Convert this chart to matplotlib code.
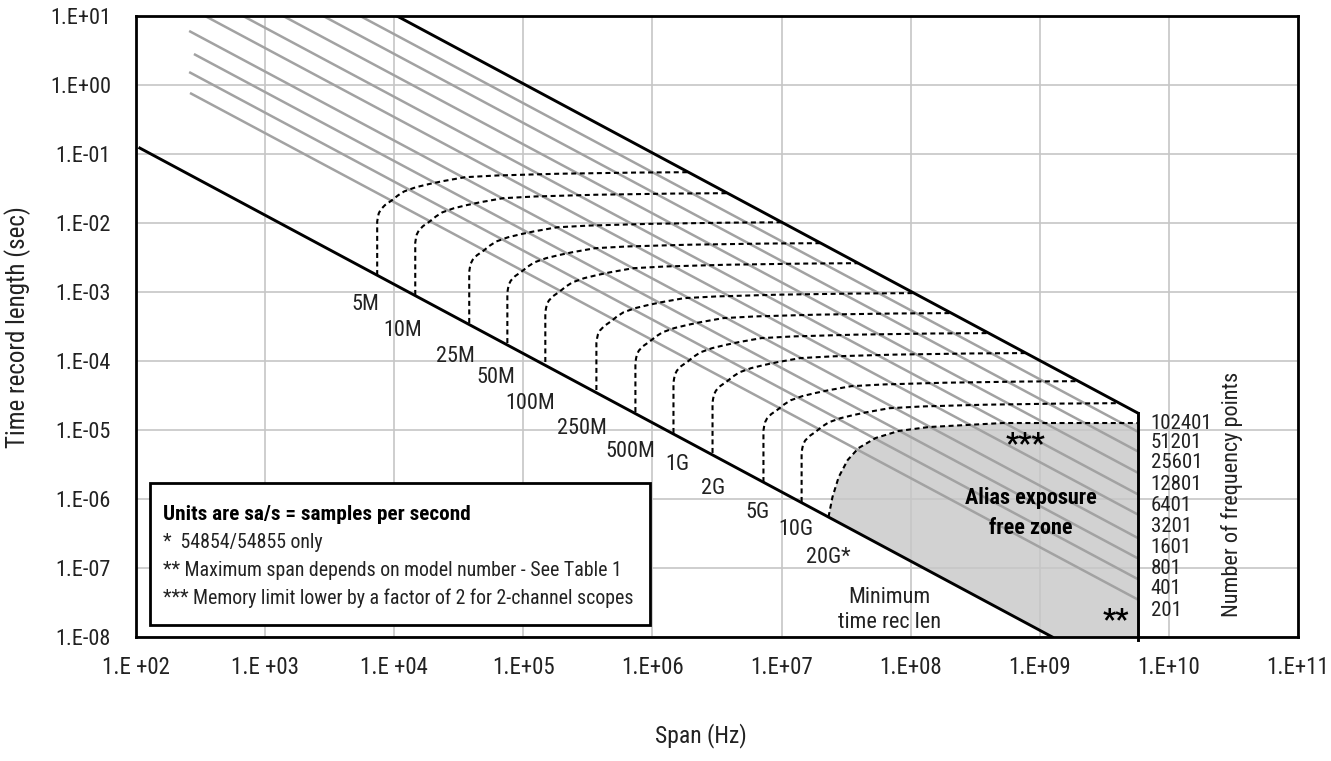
import numpy as np
import matplotlib
matplotlib.use("Agg")
import matplotlib.pyplot as plt
from matplotlib import font_manager as fm
from matplotlib.patches import Rectangle, Polygon
from matplotlib.ticker import NullLocator

# ---------------- data ----------------
x_ticks = [1e2, 1e3, 1e4, 1e5, 1e6, 1e7, 1e8, 1e9, 1e10, 1e11]
x_tick_labels = ['1.E +02', '1.E +03', '1.E +04', '1.E+05', '1.E+06',
                 '1.E+07', '1.E+08', '1.E+09', '1.E+10', '1.E+11']
y_ticks = [1e1, 1e0, 1e-1, 1e-2, 1e-3, 1e-4, 1e-5, 1e-6, 1e-7, 1e-8]
y_tick_labels = ['1.E+01', '1.E+00', '1.E-01', '1.E-02', '1.E-03',
                 '1.E-04', '1.E-05', '1.E-06', '1.E-07', '1.E-08']

# number-of-frequency-points labels (right side) and their heights
freq_points = ['102401', '51201', '25601', '12801', '6401',
               '3201', '1601', '801', '401', '201']
freq_label_T = [1.26e-5, 6.49e-6, 3.33e-6, 1.60e-6, 7.92e-7,
                3.93e-7, 1.95e-7, 1.00e-7, 4.97e-8, 2.46e-8]
freq_label_span = 7.24e9

# grey constant-point-count lines (51201 ... 201): start and end points
gray_start_span = [5.45e3, 2.82e3, 1.38e3, 6.75e2, 3.43e2, 2.58e2, 2.81e2, 2.58e2, 2.62e2]
gray_start_T = [10.0, 10.0, 10.0, 10.0, 10.0, 6.07, 2.81, 1.54, 0.766]
gray_end_span = [5.75e9] * 9
gray_end_T = [9.46e-6, 4.90e-6, 2.40e-6, 1.17e-6, 5.96e-7, 2.72e-7, 1.38e-7, 6.9e-8, 3.49e-8]

# black boundary lines
max_line_span = [1.05e4, 5.75e9]        # 102401 points / memory limit
max_line_T = [10.0, 1.76e-5]
min_line_span = [1.07e2, 1.25e9]        # minimum time record length
min_line_T = [0.122, 1e-8]
max_span = 5.75e9                      # right vertical boundary
edge_T = [1.76e-5, 9.0e-9]

# sample-rate curves
rate_labels = ['5M', '10M', '25M', '50M', '100M', '250M', '500M', '1G', '2G', '5G', '10G']
rate_s0 = [7.38e3, 1.455e4, 3.81e4, 7.52e4, 1.48e5, 3.68e5, 7.38e5, 1.455e6, 2.92e6, 7.24e6, 1.43e7]
rate_bottom_T = [1.76e-3, 9.06e-4, 3.56e-4, 1.82e-4, 9.68e-5, 3.80e-5, 1.82e-5,
                 9.06e-6, 4.65e-6, 1.76e-6, 9.06e-7]
rate_level_T = [5.48e-2, 2.72e-2, 1.03e-2, 5.13e-3, 2.63e-3, 9.68e-4, 4.97e-4,
                2.55e-4, 1.31e-4, 5.13e-5, 2.46e-5]
# shared corner shape (decades relative to s0 / level)
corner_dlogS = [0.0, 0.005, 0.012, 0.027, 0.06, 0.11, 0.16, 0.21, 0.30, 0.40,
                0.50, 0.68, 0.93, 1.4, 2.0, 2.6]
corner_dlogT = [-0.72, -0.66, -0.60, -0.545, -0.48, -0.415, -0.34, -0.28, -0.22,
                -0.175, -0.135, -0.075, -0.05, -0.025, -0.008, 0.0]

# 20G curve (bounds the alias-exposure-free zone)
g20_span = [2.31e7, 2.48e7, 2.77e7, 3.25e7, 3.95e7, 5.36e7, 8.07e7, 1.38e8, 2.67e8, 5.16e8, 5.75e9]
g20_T = [5.48e-7, 1.069e-6, 2.08e-6, 3.67e-6, 5.48e-6, 7.66e-6, 9.68e-6, 1.104e-5,
         1.18e-5, 1.262e-5, 1.262e-5]

label_names = rate_labels + ['20G*']
label_span = [5.96e3, 1.153e4, 2.97e4, 6.18e4, 1.132e5, 2.86e5, 6.75e5, 1.563e6,
              2.97e6, 6.52e6, 1.285e7, 2.31e7]
label_T = [6.49e-4, 2.81e-4, 1.143e-4, 5.68e-5, 2.46e-5, 1.069e-5, 4.80e-6, 3.11e-6,
           1.442e-6, 6.27e-7, 3.56e-7, 1.442e-7]

legend_title = 'Units are sa/s = samples per second'
legend_lines = ['*  54854/54855 only',
                '** Maximum span depends on model number - See Table 1',
                '*** Memory limit lower by a factor of 2 for 2-channel scopes']

# ---------------- font ----------------
def pick_font():
    entries = fm.fontManager.ttflist
    names = {e.name for e in entries}
    for cand in ['Liberation Sans Narrow', 'Arial Narrow', 'Roboto Condensed',
                 'Noto Sans Condensed', 'Open Sans Condensed', 'DejaVu Sans Condensed']:
        if cand in names:
            return cand, 'normal', 1.0
    for base in ['Noto Sans', 'DejaVu Sans', 'Roboto', 'Open Sans']:
        for e in entries:
            if e.name == base and str(e.stretch) in ('condensed', 'semi-condensed',
                                                     'extra-condensed', '75', '87'):
                return base, 'condensed', 0.9
    return 'DejaVu Sans', 'normal', 0.78

FAM, STRETCH, SC = pick_font()
plt.rcParams['font.family'] = [FAM, 'DejaVu Sans']
plt.rcParams['font.stretch'] = STRETCH

def fs(v):
    return v * SC

TXT = '#222222'

# ---------------- figure ----------------
W, H = 1331, 761
fig = plt.figure(figsize=(W / 100, H / 100), dpi=100)
fig.patch.set_facecolor('white')
ax = fig.add_axes([136 / W, 1 - 637 / H, 1162 / W, 621 / H])
ax.set_xscale('log')
ax.set_yscale('log')
ax.set_xlim(1e2, 1e11)
ax.set_ylim(1e-8, 1e1)
ax.set_xticks(x_ticks)
ax.set_xticklabels(x_tick_labels)
ax.set_yticks(y_ticks)
ax.set_yticklabels(y_tick_labels)
ax.xaxis.set_minor_locator(NullLocator())
ax.yaxis.set_minor_locator(NullLocator())
ax.tick_params(axis='x', length=0, pad=14, labelsize=fs(16.5), colors=TXT)
ax.tick_params(axis='y', length=0, pad=18, labelsize=fs(16), colors=TXT)
ax.set_axisbelow(True)
ax.grid(True, which='major', color='#c6c6c6', lw=1.2)
for sp in ax.spines.values():
    sp.set_linewidth(2.0)
    sp.set_color('black')

# shaded alias exposure free zone
poly_x = list(g20_span) + [max_span, min_line_span[1]]
poly_y = list(g20_T) + [min_line_T[1], min_line_T[1]]
ax.add_patch(Polygon(np.column_stack([poly_x, poly_y]), closed=True,
                     facecolor='#d2d2d2', edgecolor='none', zorder=0.3))

# grey lines
for xs0, ys0, xs1, ys1 in zip(gray_start_span, gray_start_T, gray_end_span, gray_end_T):
    ax.plot([xs0, xs1], [ys0, ys1], color='#a2a2a2', lw=1.8, zorder=2,
            solid_capstyle='butt')

# black boundary lines
ax.plot(max_line_span, max_line_T, color='black', lw=2.1, zorder=5)
ax.plot(min_line_span, min_line_T, color='black', lw=2.1, zorder=5)
ax.plot([max_span, max_span], edge_T, color='black', lw=2.1, zorder=5, clip_on=False)

# upper limit in log space (for ending the curves where they meet it)
lx = np.log10(max_line_span)
ly = np.log10(max_line_T)
def upper_logT(ls):
    return ly[0] + (ly[1] - ly[0]) * (ls - lx[0]) / (lx[1] - lx[0])

dash = (2.4, 1.7)
for s0, tb, tl in zip(rate_s0, rate_bottom_T, rate_level_T):
    ls = np.log10(s0) + np.array(corner_dlogS)
    lt = np.log10(tl) + np.array(corner_dlogT)
    ls = np.concatenate([[np.log10(s0)], ls])
    lt = np.concatenate([[np.log10(tb)], lt])
    diff = lt - upper_logT(ls)
    cut_s = np.log10(max_span)
    for i in range(1, len(ls)):
        if diff[i] >= 0 > diff[i - 1]:
            f = -diff[i - 1] / (diff[i] - diff[i - 1])
            cut_s = ls[i - 1] + f * (ls[i] - ls[i - 1])
            break
    keep = ls < cut_s
    xs = np.concatenate([ls[keep], [cut_s]])
    ys = np.concatenate([lt[keep], [np.interp(cut_s, ls, lt)]])
    ax.plot(10 ** xs, 10 ** ys, color='black', lw=1.5, zorder=4,
            linestyle=(0, dash))
ax.plot(g20_span, g20_T, color='black', lw=1.5, zorder=4, linestyle=(0, dash))

# sample-rate labels
for name, xs, ys in zip(label_names, label_span, label_T):
    ax.text(xs, ys, name, ha='center', va='center', fontsize=fs(16), color=TXT,
            zorder=6)

# frequency point labels
for name, ys in zip(freq_points, freq_label_T):
    ax.text(freq_label_span, ys, name, ha='left', va='center', fontsize=fs(15),
            color=TXT, clip_on=False)

# annotations
ax.text(7.78e8, 6.3e-6, '***', ha='center', va='center', fontsize=fs(21),
        fontweight='bold', zorder=6)
ax.text(3.88e9, 1.77e-8, '**', ha='center', va='center', fontsize=fs(21),
        fontweight='bold', zorder=6)
ax.text(8.51e8, 6.27e-7, 'Alias exposure\nfree zone', ha='center', va='center',
        fontsize=fs(16), fontweight='bold', linespacing=1.45, zorder=6)
ax.text(6.87e7, 2.45e-8, 'Minimum\ntime rec len', ha='center', va='center',
        fontsize=fs(16), linespacing=1.25, color=TXT, zorder=6)

# legend box
def fx(x):
    return x / W
def fy(y):
    return 1 - y / H

fig.patches.append(Rectangle((fx(150), fy(625)), fx(650) - fx(150), fy(483) - fy(625),
                             transform=fig.transFigure, facecolor='white',
                             edgecolor='black', lw=2.0, zorder=10))
fig.text(fx(163), fy(520), legend_title, fontsize=fs(15.3), fontweight='bold',
         ha='left', va='baseline', zorder=11)
for i, line in enumerate(legend_lines):
    fig.text(fx(163), fy(548 + 28 * i), line, fontsize=fs(14.3), ha='left',
             va='baseline', color=TXT, zorder=11)

# axis titles
fig.text(fx(18), fy(327), 'Time record length (sec)', rotation=90, ha='center',
         va='center', fontsize=fs(18), color=TXT)
fig.text(fx(701), fy(736), 'Span (Hz)', ha='center', va='center', fontsize=fs(17),
         color=TXT)
fig.text(fx(1232), fy(494), 'Number of frequency points', rotation=90, ha='center',
         va='center', fontsize=fs(16), color=TXT)

fig.savefig('out.png', dpi=100, facecolor='white')
